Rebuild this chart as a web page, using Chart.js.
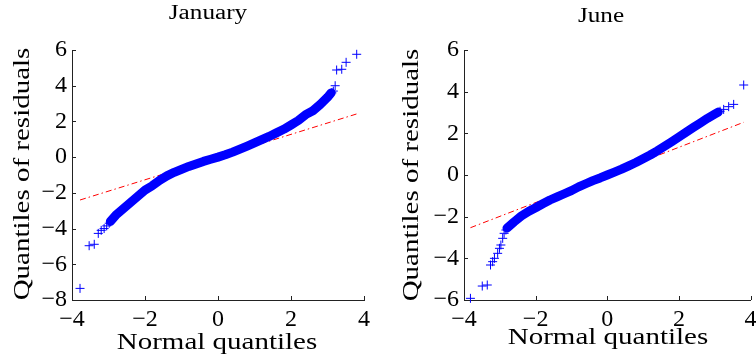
<!DOCTYPE html>
<html>
<head>
<meta charset="utf-8">
<script src="https://cdn.jsdelivr.net/npm/chart.js@4.4.1/dist/chart.umd.min.js"></script>
<style>
  body { margin: 0; background: #fff; }
  .panel { position: absolute; top: 0; width: 378px; height: 354px; }
</style>
</head>
<body>
<div class="panel" style="left:0"><canvas id="janChart" width="378" height="354"></canvas></div>
<div class="panel" style="left:378px"><canvas id="junChart" width="378" height="354"></canvas></div>
<script>
const serif = '"Liberation Serif", "Times New Roman", serif';

// January: dense middle of the QQ curve, sparse tail points, fitted reference line
const janBandX = [-2.95, -2.8, -2.6, -2.4, -2.2, -2.0, -1.8, -1.6, -1.4, -1.2, -1.0, -0.8, -0.6, -0.4, -0.2, 0, 0.2, 0.4, 0.6, 0.8, 1.0, 1.2, 1.4, 1.6, 1.8, 2.0, 2.2, 2.4, 2.6, 2.8, 3.0, 3.1];
const janBandY = [-3.6, -3.25, -2.9, -2.55, -2.2, -1.85, -1.6, -1.3, -1.05, -0.85, -0.68, -0.52, -0.38, -0.24, -0.12, 0, 0.13, 0.28, 0.45, 0.62, 0.8, 0.98, 1.16, 1.36, 1.56, 1.8, 2.05, 2.38, 2.6, 2.95, 3.35, 3.6];
const janTailX = [-3.78, -3.53, -3.39, -3.28, -3.2, -3.12, -3.05, -2.98, 3.12, 3.16, 3.21, 3.25, 3.39, 3.51, 3.8];
const janTailY = [-7.35, -4.96, -4.88, -4.27, -4.1, -4.0, -3.85, -3.7, 3.6, 3.7, 4.0, 4.88, 4.92, 5.31, 5.76];
const janRefX = [-3.78, 3.8];
const janRefY = [-2.4, 2.42];
const janYRange = [-8, 6];

// June
const junBandX = [-2.8, -2.6, -2.4, -2.2, -2.0, -1.8, -1.6, -1.4, -1.2, -1.0, -0.8, -0.6, -0.4, -0.2, 0, 0.2, 0.4, 0.6, 0.8, 1.0, 1.2, 1.4, 1.6, 1.8, 2.0, 2.2, 2.4, 2.6, 2.8, 3.0, 3.1];
const junBandY = [-2.55, -2.25, -1.97, -1.75, -1.57, -1.38, -1.2, -1.05, -0.9, -0.75, -0.57, -0.42, -0.27, -0.14, 0, 0.14, 0.28, 0.44, 0.6, 0.78, 0.96, 1.16, 1.38, 1.6, 1.82, 2.05, 2.28, 2.5, 2.72, 2.92, 3.02];
const junTailX = [-3.82, -3.49, -3.35, -3.26, -3.2, -3.15, -3.06, -3.01, -2.97, -2.92, -2.88, -2.83, 3.15, 3.25, 3.39, 3.53, 3.81];
const junTailY = [-5.92, -5.33, -5.28, -4.32, -4.16, -4.0, -3.76, -3.52, -3.36, -3.04, -2.8, -2.64, 3.06, 3.15, 3.28, 3.39, 4.32];
const junRefX = [-3.82, 3.81];
const junRefY = [-2.53, 2.53];
const junYRange = [-6, 6];

const xRange = [-4, 4];
const tickStep = 2;

const toPoints = (xs, ys) => xs.map((x, i) => ({ x: x, y: ys[i] }));
const minus = v => String(v).replace('-', '\u2212');

// titles, axis titles and inward tick marks
const decorPlugin = {
	id: 'decor',
	afterDraw(chart, args, o) {
		const ctx = chart.ctx;
		const area = chart.chartArea;
		const xs = chart.scales.x, ys = chart.scales.y;

		ctx.save();
		ctx.strokeStyle = '#222';
		ctx.lineWidth = 1;
		xs.ticks.forEach(t => {
			const px = Math.round(xs.getPixelForValue(t.value)) + 0.5;
			ctx.beginPath();
			ctx.moveTo(px, area.bottom);
			ctx.lineTo(px, area.bottom - 4);
			ctx.stroke();
		});
		ys.ticks.forEach(t => {
			const py = Math.round(ys.getPixelForValue(t.value)) + 0.5;
			ctx.beginPath();
			ctx.moveTo(area.left, py);
			ctx.lineTo(area.left + 4, py);
			ctx.stroke();
		});

		const text = (str, x, y, size, rot) => {
			ctx.save();
			ctx.translate(x, y);
			ctx.rotate(rot);
			ctx.scale(o.stretch, 1);
			ctx.font = size + 'px ' + serif;
			ctx.fillStyle = '#000';
			ctx.textAlign = 'center';
			ctx.textBaseline = 'alphabetic';
			ctx.fillText(str, 0, 0);
			ctx.restore();
		};
		text(o.title, o.titleX, o.titleY, 20, 0);
		text('Quantiles of residuals', o.yTitleX, o.yTitleY, 23, -Math.PI / 2);
		text('Normal quantiles', o.xTitleX, o.xTitleY, 23, 0);
		ctx.restore();
	}
};

function makeChart(id, d) {
	return new Chart(document.getElementById(id), {
		type: 'scatter',
		data: {
			datasets: [
				{
					data: toPoints(d.bandX, d.bandY),
					showLine: true,
					borderColor: '#0000ff',
					borderWidth: 9,
					borderJoinStyle: 'round',
					borderCapStyle: 'round',
					pointRadius: 0
				},
				{
					data: toPoints(d.tailX, d.tailY),
					pointStyle: 'cross',
					pointRadius: 4.5,
					pointBorderColor: '#0000ff',
					pointBorderWidth: 1,
					borderColor: '#0000ff',
					clip: false
				},
				{
					data: toPoints(d.refX, d.refY),
					showLine: true,
					borderColor: '#ff0000',
					borderWidth: 1,
					borderDash: [6, 3, 1.5, 3],
					pointRadius: 0
				}
			]
		},
		options: {
			responsive: false,
			animation: false,
			devicePixelRatio: 1,
			events: [],
			layout: { padding: { left: 0, right: d.padRight, top: 50, bottom: 0 } },
			plugins: {
				legend: { display: false },
				tooltip: { enabled: false },
				decor: d.decor
			},
			scales: {
				x: {
					type: 'linear',
					min: xRange[0],
					max: xRange[1],
					ticks: { stepSize: tickStep, color: '#000', font: { family: serif, size: 24 }, padding: 5, callback: minus },
					grid: { display: false, drawTicks: false },
					border: { display: true, color: '#222' },
					afterFit: s => { s.height = 54; s.paddingLeft = 0; s.paddingRight = 0; }
				},
				y: {
					type: 'linear',
					min: d.yRange[0],
					max: d.yRange[1],
					ticks: { stepSize: tickStep, color: '#000', font: { family: serif, size: 24 }, padding: 5, callback: minus },
					grid: { display: false, drawTicks: false },
					border: { display: true, color: '#222' },
					afterFit: s => { s.width = d.axisLeft; s.paddingTop = 0; s.paddingBottom = 0; }
				}
			}
		},
		plugins: [decorPlugin]
	});
}

makeChart('janChart', {
	bandX: janBandX, bandY: janBandY, tailX: janTailX, tailY: janTailY,
	refX: janRefX, refY: janRefY, yRange: janYRange,
	axisLeft: 72, padRight: 14,
	decor: { title: 'January', titleX: 208, titleY: 19, yTitleX: 29, yTitleY: 174, xTitleX: 217, xTitleY: 349, stretch: 1.26 }
});

makeChart('junChart', {
	bandX: junBandX, bandY: junBandY, tailX: junTailX, tailY: junTailY,
	refX: junRefX, refY: junRefY, yRange: junYRange,
	axisLeft: 86, padRight: 1,
	decor: { title: 'June', titleX: 223, titleY: 22, yTitleX: 40, yTitleY: 175, xTitleX: 230, xTitleY: 344, stretch: 1.26 }
});
</script>
</body>
</html>
